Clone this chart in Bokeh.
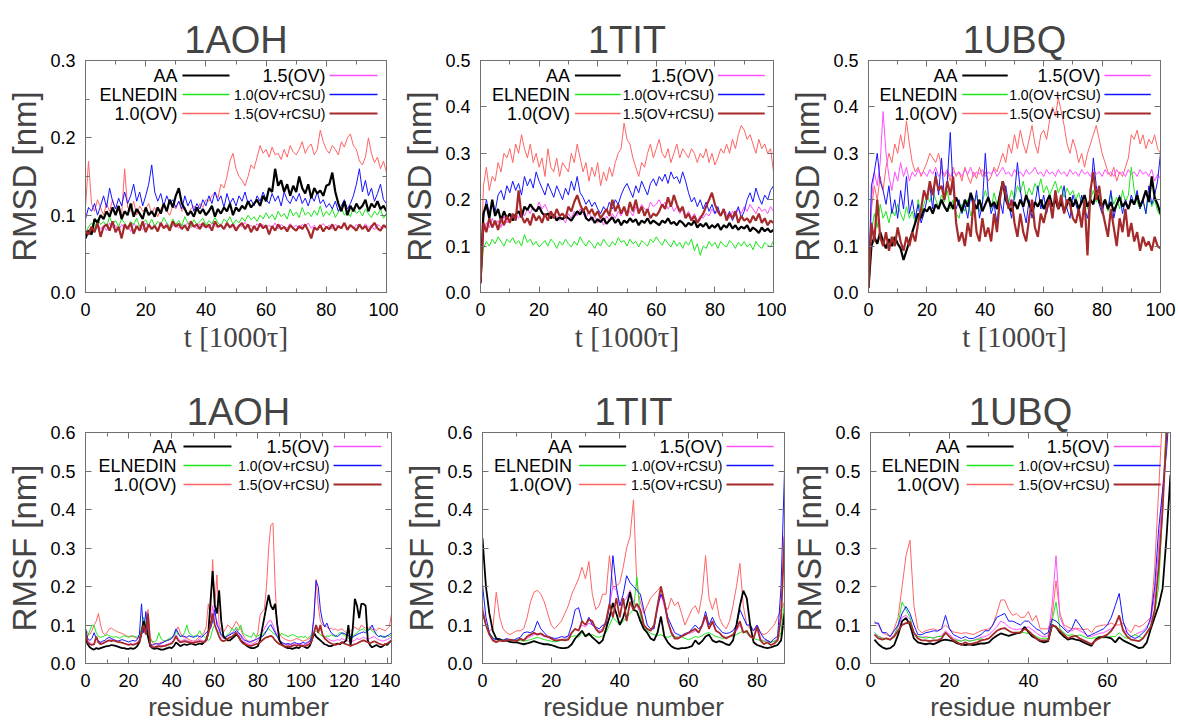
import numpy as np
from bokeh.plotting import figure
from bokeh.layouts import column, row
from bokeh.models import (Range1d, LinearAxis, FixedTicker,
                          NumeralTickFormatter, CustomJSTickFormatter, Label)
from bokeh.embed import file_html
from bokeh.resources import INLINE

FONT = "Liberation Sans"
SERIF = "Liberation Serif"
EDGE = "#707070"

SERIES = ["AA", "ELNEDIN", "1.0(OV)", "1.5(OV)", "1.0(OV+rCSU)", "1.5(OV+rCSU)"]
COLORS = {"AA": "#000000", "ELNEDIN": "#1ee61e", "1.0(OV)": "#ff6464",
          "1.5(OV)": "#ff50ff", "1.0(OV+rCSU)": "#1414ff", "1.5(OV+rCSU)": "#a52a2a"}
DRAW_ORDER = ["1.0(OV)", "1.5(OV)", "ELNEDIN", "1.0(OV+rCSU)", "AA", "1.5(OV+rCSU)"]

# tick positions
T_TICKS = [0, 20, 40, 60, 80, 100]
T_MINOR = [10, 30, 50, 70, 90]
Y03_TICKS = [0.0, 0.1, 0.2, 0.3]
Y03_MINOR = [0.05, 0.15, 0.25]
Y05_TICKS = [0.0, 0.1, 0.2, 0.3, 0.4, 0.5]
Y06_TICKS = [0.0, 0.1, 0.2, 0.3, 0.4, 0.5, 0.6]
R142_TICKS = [0, 20, 40, 60, 80, 100, 120, 140]
R142_MINOR = [10, 30, 50, 70, 90, 110, 130]
R88_TICKS = [0, 20, 40, 60, 80]
R88_MINOR = [10, 30, 50, 70]
R76_TICKS = [0, 20, 40, 60]
R76_MINOR = [10, 30, 50, 70]

# ---------------- RMSD vs time (t in 1000 tau) ----------------
T = list(range(0, 101))

rmsd_1aoh_aa = [0.070,0.080,0.075,0.095,0.090,0.100,0.095,0.105,0.098,0.110,0.100,
    0.112,0.095,0.105,0.100,0.115,0.098,0.108,0.102,0.095,0.110,
    0.100,0.105,0.098,0.110,0.102,0.115,0.105,0.120,0.110,0.125,
    0.135,0.115,0.108,0.100,0.105,0.098,0.110,0.102,0.108,0.100,
    0.105,0.112,0.098,0.108,0.102,0.110,0.105,0.115,0.100,0.110,
    0.105,0.112,0.108,0.118,0.110,0.115,0.120,0.112,0.125,0.118,
    0.135,0.130,0.160,0.138,0.145,0.130,0.140,0.125,0.138,0.130,
    0.150,0.135,0.128,0.140,0.122,0.135,0.128,0.132,0.125,0.138,
    0.140,0.155,0.130,0.115,0.105,0.118,0.100,0.112,0.105,0.115,
    0.108,0.112,0.120,0.105,0.115,0.110,0.118,0.108,0.112,0.105]
rmsd_1aoh_eln = [0.075,0.085,0.090,0.082,0.095,0.088,0.092,0.085,0.098,0.088,0.093,
    0.085,0.095,0.090,0.083,0.092,0.088,0.096,0.085,0.090,0.094,
    0.087,0.095,0.085,0.092,0.088,0.097,0.090,0.085,0.095,0.088,
    0.093,0.086,0.098,0.090,0.085,0.094,0.088,0.092,0.096,0.087,
    0.093,0.089,0.097,0.090,0.086,0.095,0.091,0.098,0.088,0.094,
    0.090,0.097,0.092,0.100,0.094,0.098,0.092,0.100,0.095,0.103,
    0.096,0.101,0.094,0.105,0.098,0.102,0.095,0.108,0.099,0.104,
    0.097,0.110,0.100,0.104,0.098,0.106,0.100,0.112,0.098,0.105,
    0.100,0.108,0.097,0.104,0.110,0.100,0.105,0.098,0.110,0.102,
    0.106,0.099,0.108,0.102,0.097,0.105,0.100,0.108,0.096,0.103]
rmsd_1aoh_ov10 = [0.110,0.170,0.115,0.105,0.120,0.110,0.100,0.115,0.105,0.120,0.108,
    0.112,0.100,0.160,0.110,0.105,0.118,0.100,0.112,0.105,0.108,
    0.115,0.102,0.110,0.098,0.108,0.115,0.105,0.100,0.112,0.108,
    0.118,0.105,0.110,0.100,0.108,0.112,0.105,0.115,0.110,0.120,
    0.118,0.125,0.130,0.122,0.140,0.135,0.150,0.170,0.180,0.160,
    0.150,0.145,0.138,0.150,0.165,0.160,0.175,0.190,0.180,0.185,
    0.175,0.188,0.178,0.180,0.172,0.185,0.175,0.190,0.182,0.178,
    0.185,0.195,0.180,0.188,0.192,0.178,0.185,0.210,0.195,0.185,
    0.180,0.190,0.185,0.178,0.195,0.188,0.200,0.205,0.190,0.185,
    0.170,0.165,0.175,0.200,0.180,0.168,0.175,0.160,0.170,0.155]
rmsd_1aoh_ov15 = [0.075,0.080,0.085,0.078,0.088,0.082,0.086,0.080,0.090,0.084,0.087,
    0.080,0.088,0.083,0.086,0.079,0.089,0.084,0.087,0.081,0.090,
    0.085,0.083,0.088,0.080,0.087,0.084,0.090,0.082,0.086,0.089,
    0.083,0.088,0.085,0.091,0.084,0.087,0.082,0.089,0.085,0.088,
    0.083,0.090,0.086,0.084,0.089,0.082,0.087,0.085,0.090,0.083,
    0.088,0.085,0.091,0.084,0.087,0.082,0.089,0.085,0.088,0.083,
    0.087,0.084,0.090,0.082,0.088,0.085,0.083,0.089,0.084,0.087,
    0.082,0.088,0.085,0.090,0.083,0.087,0.081,0.086,0.089,0.084,
    0.087,0.082,0.088,0.085,0.083,0.089,0.084,0.087,0.082,0.088,
    0.085,0.083,0.089,0.084,0.087,0.081,0.088,0.085,0.083,0.087]
rmsd_1aoh_rc10 = [0.095,0.110,0.105,0.115,0.100,0.112,0.125,0.110,0.135,0.118,0.108,
    0.122,0.112,0.130,0.115,0.125,0.140,0.118,0.130,0.112,0.125,
    0.140,0.165,0.130,0.118,0.128,0.112,0.125,0.115,0.120,0.110,
    0.118,0.108,0.125,0.112,0.120,0.105,0.115,0.108,0.120,0.112,
    0.125,0.115,0.130,0.118,0.125,0.110,0.128,0.115,0.122,0.112,
    0.125,0.118,0.130,0.115,0.120,0.112,0.125,0.118,0.130,0.120,
    0.115,0.128,0.118,0.125,0.112,0.130,0.120,0.115,0.125,0.118,
    0.128,0.115,0.122,0.112,0.125,0.118,0.130,0.115,0.120,0.110,
    0.115,0.108,0.118,0.105,0.112,0.120,0.108,0.115,0.125,0.140,
    0.160,0.130,0.145,0.125,0.135,0.118,0.128,0.140,0.120,0.115]
rmsd_1aoh_rc15 = [0.080,0.075,0.085,0.078,0.090,0.072,0.085,0.088,0.080,0.092,0.078,
    0.085,0.070,0.088,0.082,0.090,0.076,0.086,0.080,0.092,0.078,
    0.088,0.082,0.086,0.079,0.090,0.083,0.087,0.080,0.092,0.085,
    0.089,0.082,0.087,0.080,0.092,0.085,0.088,0.082,0.090,0.084,
    0.088,0.080,0.092,0.085,0.087,0.082,0.090,0.084,0.088,0.080,
    0.086,0.090,0.082,0.088,0.078,0.086,0.080,0.089,0.083,0.087,
    0.075,0.086,0.080,0.088,0.082,0.085,0.079,0.087,0.083,0.080,
    0.086,0.082,0.088,0.080,0.070,0.084,0.081,0.087,0.079,0.085,
    0.082,0.088,0.080,0.086,0.083,0.090,0.081,0.087,0.084,0.080,
    0.088,0.082,0.086,0.079,0.085,0.090,0.083,0.080,0.087,0.084]

rmsd_1tit_aa = [0.020,0.170,0.190,0.160,0.200,0.165,0.180,0.155,0.175,0.160,0.170,
    0.155,0.168,0.175,0.162,0.185,0.178,0.190,0.180,0.175,0.185,
    0.172,0.165,0.170,0.160,0.168,0.155,0.162,0.158,0.165,0.160,
    0.155,0.165,0.175,0.168,0.180,0.160,0.155,0.162,0.150,0.158,
    0.152,0.160,0.148,0.155,0.162,0.150,0.158,0.145,0.155,0.150,
    0.160,0.152,0.158,0.145,0.155,0.150,0.160,0.148,0.155,0.150,
    0.145,0.155,0.150,0.160,0.148,0.152,0.145,0.155,0.150,0.142,
    0.150,0.145,0.155,0.140,0.148,0.142,0.150,0.138,0.145,0.140,
    0.148,0.135,0.145,0.140,0.150,0.138,0.145,0.135,0.142,0.138,
    0.145,0.132,0.140,0.135,0.128,0.140,0.132,0.138,0.130,0.135]
rmsd_1tit_eln = [0.020,0.095,0.110,0.100,0.115,0.105,0.120,0.110,0.100,0.115,0.108,
    0.118,0.105,0.112,0.100,0.125,0.108,0.115,0.102,0.110,0.098,
    0.105,0.112,0.100,0.115,0.108,0.095,0.110,0.102,0.115,0.105,
    0.098,0.110,0.102,0.120,0.108,0.100,0.112,0.105,0.095,0.108,
    0.100,0.115,0.105,0.098,0.110,0.102,0.118,0.108,0.112,0.100,
    0.115,0.105,0.110,0.098,0.112,0.106,0.100,0.115,0.108,0.120,
    0.110,0.102,0.115,0.105,0.098,0.112,0.100,0.108,0.095,0.110,
    0.102,0.115,0.090,0.105,0.080,0.100,0.095,0.110,0.100,0.108,
    0.095,0.110,0.102,0.098,0.112,0.105,0.095,0.108,0.100,0.110,
    0.098,0.105,0.092,0.110,0.100,0.095,0.108,0.102,0.098,0.112]
rmsd_1tit_ov10 = [0.020,0.230,0.270,0.220,0.250,0.240,0.280,0.260,0.300,0.290,0.310,
    0.280,0.320,0.300,0.340,0.310,0.290,0.320,0.280,0.300,0.270,
    0.290,0.250,0.310,0.270,0.260,0.290,0.250,0.280,0.270,0.260,
    0.300,0.280,0.320,0.290,0.260,0.280,0.240,0.270,0.250,0.280,
    0.230,0.260,0.240,0.270,0.250,0.280,0.300,0.310,0.365,0.330,
    0.320,0.290,0.270,0.250,0.280,0.270,0.300,0.320,0.290,0.310,
    0.330,0.300,0.290,0.310,0.280,0.300,0.320,0.290,0.310,0.300,
    0.290,0.310,0.300,0.280,0.300,0.290,0.310,0.280,0.300,0.275,
    0.290,0.310,0.300,0.320,0.300,0.330,0.310,0.340,0.360,0.350,
    0.330,0.340,0.320,0.300,0.330,0.310,0.320,0.300,0.310,0.260]
rmsd_1tit_ov15 = [0.020,0.130,0.150,0.140,0.160,0.145,0.155,0.140,0.165,0.150,0.160,
    0.155,0.170,0.160,0.175,0.165,0.180,0.170,0.185,0.175,0.195,
    0.180,0.190,0.175,0.170,0.160,0.165,0.155,0.160,0.150,0.170,
    0.160,0.175,0.165,0.180,0.170,0.160,0.175,0.155,0.165,0.150,
    0.160,0.145,0.165,0.155,0.170,0.160,0.175,0.165,0.180,0.170,
    0.175,0.165,0.185,0.175,0.190,0.180,0.175,0.195,0.185,0.190,
    0.200,0.185,0.195,0.180,0.190,0.175,0.185,0.170,0.180,0.165,
    0.175,0.160,0.170,0.155,0.165,0.160,0.170,0.165,0.180,0.170,
    0.175,0.165,0.180,0.170,0.160,0.175,0.165,0.180,0.170,0.185,
    0.175,0.190,0.180,0.170,0.185,0.175,0.180,0.170,0.185,0.175]
rmsd_1tit_rc10 = [0.020,0.160,0.200,0.170,0.190,0.175,0.210,0.220,0.200,0.230,0.215,
    0.240,0.220,0.235,0.210,0.250,0.230,0.245,0.225,0.260,0.240,
    0.225,0.210,0.235,0.220,0.205,0.230,0.215,0.200,0.225,0.210,
    0.240,0.220,0.250,0.215,0.205,0.190,0.200,0.185,0.195,0.180,
    0.170,0.185,0.175,0.195,0.180,0.200,0.190,0.210,0.225,0.235,
    0.220,0.205,0.230,0.215,0.240,0.225,0.210,0.235,0.245,0.230,
    0.250,0.240,0.255,0.235,0.260,0.245,0.250,0.235,0.260,0.240,
    0.215,0.195,0.205,0.185,0.200,0.180,0.195,0.175,0.190,0.170,
    0.185,0.165,0.180,0.160,0.175,0.155,0.170,0.185,0.160,0.175,
    0.200,0.215,0.195,0.225,0.205,0.190,0.210,0.200,0.220,0.230]
rmsd_1tit_rc15 = [0.020,0.150,0.130,0.160,0.140,0.155,0.135,0.160,0.145,0.165,0.150,
    0.170,0.155,0.220,0.165,0.150,0.160,0.145,0.170,0.155,0.165,
    0.150,0.170,0.155,0.175,0.160,0.180,0.165,0.170,0.160,0.185,
    0.175,0.195,0.210,0.190,0.175,0.185,0.170,0.180,0.165,0.175,
    0.160,0.170,0.180,0.165,0.200,0.175,0.190,0.170,0.185,0.165,
    0.195,0.175,0.200,0.170,0.185,0.165,0.180,0.160,0.170,0.165,
    0.175,0.190,0.180,0.205,0.185,0.210,0.190,0.175,0.185,0.160,
    0.170,0.155,0.165,0.150,0.160,0.170,0.185,0.200,0.215,0.190,
    0.175,0.165,0.180,0.155,0.170,0.160,0.175,0.150,0.165,0.155,
    0.160,0.150,0.165,0.155,0.170,0.150,0.160,0.145,0.155,0.150]

rmsd_1ubq_aa = [0.010,0.100,0.120,0.105,0.130,0.110,0.095,0.115,0.100,0.120,0.105,
    0.095,0.070,0.090,0.110,0.130,0.150,0.170,0.160,0.180,0.175,
    0.185,0.170,0.190,0.180,0.200,0.185,0.175,0.195,0.180,0.205,
    0.190,0.175,0.200,0.185,0.215,0.195,0.180,0.200,0.175,0.190,
    0.205,0.185,0.195,0.180,0.210,0.240,0.200,0.185,0.175,0.195,
    0.180,0.200,0.185,0.210,0.190,0.175,0.195,0.185,0.200,0.180,
    0.195,0.210,0.185,0.200,0.180,0.195,0.175,0.190,0.205,0.185,
    0.200,0.180,0.195,0.210,0.185,0.200,0.190,0.220,0.195,0.185,
    0.200,0.180,0.195,0.175,0.190,0.205,0.185,0.195,0.180,0.200,
    0.190,0.210,0.185,0.200,0.220,0.195,0.250,0.205,0.190,0.170]
rmsd_1ubq_eln = [0.010,0.130,0.170,0.140,0.190,0.160,0.175,0.150,0.180,0.165,0.190,
    0.170,0.155,0.185,0.160,0.175,0.150,0.200,0.170,0.190,0.210,
    0.195,0.220,0.200,0.185,0.210,0.195,0.220,0.180,0.200,0.170,
    0.160,0.190,0.175,0.200,0.165,0.185,0.210,0.175,0.195,0.220,
    0.200,0.180,0.215,0.190,0.205,0.230,0.210,0.195,0.220,0.200,
    0.230,0.215,0.240,0.205,0.225,0.210,0.235,0.220,0.245,0.215,
    0.230,0.210,0.225,0.240,0.215,0.230,0.205,0.225,0.210,0.220,
    0.200,0.215,0.190,0.210,0.180,0.200,0.220,0.195,0.210,0.185,
    0.200,0.175,0.215,0.190,0.205,0.180,0.220,0.195,0.210,0.270,
    0.220,0.195,0.180,0.200,0.170,0.210,0.185,0.200,0.175,0.165]
rmsd_1ubq_ov10 = [0.010,0.180,0.230,0.200,0.250,0.220,0.270,0.300,0.280,0.320,0.300,
    0.340,0.310,0.370,0.320,0.280,0.260,0.270,0.250,0.265,0.280,
    0.300,0.290,0.280,0.300,0.270,0.250,0.260,0.240,0.270,0.250,
    0.260,0.240,0.270,0.250,0.235,0.260,0.245,0.270,0.250,0.260,
    0.240,0.250,0.270,0.260,0.280,0.300,0.280,0.320,0.300,0.340,
    0.310,0.350,0.320,0.300,0.330,0.360,0.320,0.300,0.340,0.350,
    0.330,0.370,0.400,0.380,0.420,0.390,0.360,0.320,0.300,0.330,
    0.310,0.280,0.300,0.270,0.300,0.320,0.340,0.360,0.330,0.300,
    0.280,0.260,0.250,0.270,0.240,0.260,0.250,0.270,0.290,0.340,
    0.330,0.350,0.320,0.340,0.310,0.330,0.320,0.340,0.310,0.300]
rmsd_1ubq_ov15 = [0.010,0.200,0.260,0.230,0.280,0.390,0.300,0.250,0.220,0.260,0.240,
    0.280,0.250,0.270,0.240,0.260,0.250,0.265,0.255,0.260,0.250,
    0.265,0.255,0.270,0.250,0.260,0.255,0.265,0.250,0.260,0.255,
    0.260,0.250,0.265,0.255,0.270,0.250,0.260,0.255,0.265,0.250,
    0.260,0.255,0.265,0.250,0.260,0.270,0.255,0.260,0.250,0.265,
    0.255,0.260,0.250,0.265,0.255,0.260,0.270,0.255,0.260,0.250,
    0.265,0.255,0.260,0.250,0.265,0.255,0.260,0.250,0.265,0.255,
    0.260,0.250,0.265,0.255,0.260,0.250,0.265,0.255,0.260,0.250,
    0.265,0.255,0.260,0.250,0.265,0.255,0.260,0.250,0.265,0.255,
    0.260,0.250,0.265,0.255,0.260,0.250,0.265,0.240,0.255,0.245]
rmsd_1ubq_rc10 = [0.010,0.230,0.260,0.300,0.240,0.220,0.190,0.230,0.170,0.200,0.160,
    0.220,0.180,0.250,0.170,0.200,0.160,0.190,0.150,0.170,0.200,
    0.230,0.180,0.260,0.210,0.290,0.200,0.240,0.345,0.220,0.180,
    0.200,0.170,0.190,0.160,0.210,0.180,0.220,0.160,0.190,0.300,
    0.210,0.170,0.190,0.150,0.200,0.170,0.230,0.190,0.160,0.210,
    0.280,0.220,0.180,0.150,0.200,0.160,0.190,0.230,0.180,0.210,
    0.170,0.200,0.160,0.220,0.180,0.200,0.230,0.180,0.160,0.210,
    0.190,0.170,0.210,0.180,0.160,0.200,0.290,0.230,0.190,0.170,
    0.200,0.180,0.220,0.160,0.190,0.210,0.170,0.200,0.180,0.210,
    0.190,0.220,0.180,0.200,0.170,0.230,0.190,0.210,0.240,0.300]
rmsd_1ubq_rc15 = [0.010,0.150,0.110,0.200,0.120,0.100,0.130,0.090,0.120,0.100,0.140,
    0.110,0.090,0.120,0.100,0.130,0.110,0.150,0.180,0.220,0.200,
    0.240,0.210,0.250,0.220,0.230,0.200,0.240,0.210,0.250,0.150,
    0.110,0.130,0.100,0.150,0.120,0.200,0.130,0.110,0.160,0.120,
    0.140,0.110,0.170,0.130,0.200,0.240,0.210,0.180,0.200,0.150,
    0.120,0.170,0.130,0.110,0.160,0.200,0.140,0.120,0.170,0.150,
    0.180,0.200,0.160,0.220,0.180,0.210,0.170,0.200,0.190,0.160,
    0.150,0.180,0.140,0.200,0.080,0.220,0.260,0.200,0.230,0.180,
    0.150,0.120,0.180,0.140,0.100,0.160,0.130,0.180,0.120,0.150,
    0.110,0.130,0.090,0.120,0.100,0.110,0.090,0.120,0.100,0.095]

# ---------------- RMSF vs residue number ----------------
RES_1AOH = list(range(0, 143))
RES_1TIT = list(range(0, 89))
RES_1UBQ = list(range(1, 77))

rmsf_1aoh_aa = [0.065,0.050,0.042,0.038,0.036,0.040,0.038,0.040,0.042,0.044,
    0.045,0.046,0.048,0.047,0.046,0.044,0.042,0.040,0.040,0.038,
    0.038,0.040,0.038,0.040,0.045,0.055,0.080,0.110,0.090,0.070,
    0.045,0.040,0.038,0.040,0.038,0.036,0.036,0.038,0.040,0.042,
    0.040,0.045,0.055,0.050,0.045,0.048,0.050,0.048,0.050,0.052,
    0.050,0.048,0.050,0.052,0.050,0.055,0.060,0.080,0.160,0.240,
    0.150,0.130,0.190,0.110,0.070,0.065,0.060,0.060,0.065,0.070,
    0.075,0.070,0.060,0.055,0.050,0.045,0.042,0.040,0.040,0.042,
    0.045,0.060,0.090,0.120,0.150,0.178,0.150,0.140,0.155,0.100,
    0.060,0.050,0.045,0.042,0.040,0.040,0.038,0.040,0.042,0.040,
    0.045,0.045,0.042,0.040,0.045,0.060,0.080,0.070,0.065,0.060,
    0.055,0.050,0.048,0.045,0.045,0.048,0.050,0.052,0.050,0.055,
    0.055,0.060,0.100,0.045,0.090,0.168,0.150,0.118,0.155,0.155,
    0.150,0.060,0.048,0.042,0.045,0.048,0.045,0.042,0.045,0.050,
    0.048,0.055,0.060]
rmsf_1aoh_eln = [0.090,0.070,0.085,0.100,0.098,0.080,0.070,0.068,0.070,0.072,
    0.075,0.072,0.070,0.068,0.070,0.068,0.065,0.070,0.072,0.070,
    0.068,0.070,0.072,0.070,0.068,0.075,0.090,0.120,0.100,0.085,
    0.060,0.058,0.056,0.060,0.080,0.065,0.060,0.058,0.062,0.065,
    0.068,0.070,0.085,0.075,0.070,0.072,0.080,0.100,0.080,0.075,
    0.070,0.072,0.075,0.085,0.075,0.070,0.065,0.060,0.065,0.090,
    0.100,0.085,0.080,0.075,0.072,0.070,0.075,0.080,0.090,0.085,
    0.095,0.085,0.100,0.080,0.075,0.072,0.070,0.068,0.080,0.070,
    0.072,0.075,0.070,0.080,0.085,0.090,0.085,0.080,0.075,0.070,
    0.072,0.078,0.075,0.073,0.070,0.072,0.075,0.073,0.070,0.068,
    0.070,0.068,0.070,0.065,0.070,0.075,0.080,0.085,0.080,0.075,
    0.070,0.068,0.072,0.070,0.075,0.072,0.070,0.075,0.080,0.078,
    0.075,0.070,0.065,0.068,0.072,0.075,0.080,0.085,0.088,0.090,
    0.085,0.088,0.090,0.085,0.080,0.075,0.070,0.072,0.068,0.070,
    0.072,0.070,0.075]
rmsf_1aoh_ov10 = [0.090,0.080,0.075,0.085,0.100,0.110,0.130,0.100,0.080,0.075,
    0.080,0.090,0.092,0.088,0.085,0.082,0.080,0.078,0.075,0.072,
    0.070,0.072,0.070,0.068,0.065,0.068,0.075,0.090,0.100,0.140,
    0.070,0.055,0.052,0.050,0.052,0.055,0.055,0.058,0.060,0.062,
    0.065,0.070,0.085,0.095,0.080,0.070,0.068,0.065,0.062,0.060,
    0.058,0.060,0.065,0.070,0.075,0.080,0.095,0.155,0.120,0.270,
    0.150,0.230,0.100,0.085,0.080,0.090,0.100,0.095,0.090,0.100,
    0.110,0.100,0.090,0.075,0.065,0.060,0.058,0.055,0.058,0.065,
    0.080,0.125,0.135,0.140,0.200,0.300,0.360,0.365,0.200,0.100,
    0.075,0.070,0.065,0.062,0.060,0.058,0.060,0.062,0.065,0.063,
    0.060,0.058,0.060,0.062,0.065,0.075,0.120,0.218,0.150,0.110,
    0.100,0.098,0.095,0.090,0.092,0.088,0.090,0.085,0.088,0.090,
    0.085,0.080,0.082,0.085,0.090,0.095,0.090,0.088,0.100,0.095,
    0.092,0.090,0.095,0.088,0.090,0.085,0.092,0.090,0.088,0.085,
    0.090,0.095,0.130]
rmsf_1aoh_ov15 = [0.075,0.060,0.055,0.050,0.052,0.065,0.060,0.055,0.052,0.055,
    0.058,0.060,0.062,0.060,0.058,0.056,0.055,0.054,0.052,0.050,
    0.050,0.052,0.050,0.052,0.055,0.060,0.075,0.110,0.085,0.110,
    0.055,0.045,0.044,0.045,0.046,0.048,0.046,0.048,0.050,0.052,
    0.055,0.060,0.075,0.065,0.058,0.060,0.062,0.060,0.058,0.056,
    0.055,0.058,0.060,0.065,0.060,0.058,0.065,0.085,0.100,0.150,
    0.120,0.110,0.085,0.070,0.065,0.068,0.072,0.075,0.080,0.085,
    0.090,0.080,0.070,0.060,0.055,0.052,0.050,0.050,0.052,0.055,
    0.060,0.070,0.080,0.090,0.100,0.110,0.112,0.100,0.085,0.070,
    0.058,0.055,0.052,0.050,0.050,0.048,0.050,0.052,0.050,0.052,
    0.050,0.048,0.050,0.052,0.055,0.065,0.080,0.100,0.085,0.090,
    0.075,0.070,0.068,0.062,0.060,0.058,0.060,0.062,0.060,0.065,
    0.062,0.060,0.058,0.055,0.058,0.060,0.065,0.062,0.065,0.068,
    0.065,0.062,0.065,0.068,0.070,0.065,0.062,0.060,0.058,0.060,
    0.062,0.065,0.070]
rmsf_1aoh_rc10 = [0.090,0.065,0.060,0.065,0.080,0.065,0.058,0.055,0.058,0.060,
    0.065,0.068,0.065,0.062,0.060,0.058,0.060,0.062,0.060,0.058,
    0.056,0.058,0.060,0.058,0.062,0.075,0.155,0.080,0.135,0.070,
    0.050,0.048,0.050,0.052,0.050,0.052,0.055,0.058,0.060,0.062,
    0.065,0.075,0.090,0.080,0.070,0.072,0.070,0.068,0.072,0.070,
    0.068,0.070,0.072,0.070,0.068,0.075,0.080,0.085,0.090,0.110,
    0.140,0.100,0.090,0.075,0.070,0.068,0.072,0.075,0.078,0.080,
    0.085,0.080,0.075,0.065,0.060,0.058,0.055,0.058,0.060,0.062,
    0.065,0.068,0.070,0.075,0.085,0.095,0.101,0.090,0.080,0.070,
    0.060,0.055,0.052,0.050,0.052,0.050,0.052,0.055,0.052,0.050,
    0.052,0.055,0.052,0.055,0.058,0.070,0.120,0.215,0.200,0.140,
    0.110,0.095,0.105,0.090,0.080,0.075,0.072,0.070,0.075,0.080,
    0.078,0.075,0.072,0.070,0.068,0.072,0.075,0.078,0.080,0.082,
    0.080,0.085,0.090,0.100,0.085,0.075,0.070,0.072,0.070,0.068,
    0.072,0.075,0.080]
rmsf_1aoh_rc15 = [0.080,0.055,0.050,0.048,0.050,0.070,0.055,0.050,0.052,0.055,
    0.058,0.060,0.058,0.060,0.058,0.056,0.055,0.054,0.052,0.050,
    0.048,0.050,0.048,0.050,0.052,0.058,0.080,0.100,0.075,0.130,
    0.050,0.042,0.042,0.044,0.045,0.044,0.045,0.046,0.048,0.050,
    0.052,0.060,0.070,0.060,0.055,0.056,0.058,0.056,0.055,0.054,
    0.053,0.055,0.056,0.058,0.056,0.055,0.060,0.080,0.100,0.130,
    0.100,0.085,0.070,0.060,0.058,0.060,0.065,0.068,0.070,0.075,
    0.080,0.070,0.060,0.052,0.050,0.048,0.046,0.046,0.048,0.050,
    0.052,0.055,0.060,0.065,0.068,0.070,0.072,0.068,0.060,0.055,
    0.050,0.048,0.046,0.044,0.045,0.044,0.046,0.048,0.046,0.048,
    0.046,0.045,0.046,0.048,0.050,0.060,0.080,0.100,0.080,0.100,
    0.075,0.065,0.060,0.055,0.052,0.050,0.048,0.050,0.052,0.055,
    0.052,0.050,0.048,0.046,0.048,0.050,0.052,0.055,0.058,0.060,
    0.058,0.055,0.052,0.055,0.058,0.055,0.052,0.050,0.048,0.050,
    0.052,0.055,0.060]

rmsf_1tit_aa = [0.325,0.200,0.130,0.085,0.065,0.062,0.058,0.060,0.056,0.055,
    0.055,0.052,0.050,0.052,0.055,0.058,0.055,0.052,0.050,0.050,
    0.048,0.045,0.042,0.040,0.040,0.042,0.050,0.065,0.075,0.085,
    0.070,0.078,0.068,0.060,0.052,0.060,0.090,0.120,0.157,0.130,
    0.100,0.120,0.150,0.185,0.140,0.135,0.110,0.090,0.080,0.065,
    0.060,0.080,0.122,0.070,0.055,0.045,0.040,0.038,0.040,0.040,
    0.042,0.045,0.060,0.050,0.058,0.070,0.075,0.060,0.055,0.058,
    0.055,0.050,0.048,0.060,0.100,0.150,0.189,0.170,0.100,0.055,
    0.048,0.045,0.042,0.040,0.042,0.045,0.048,0.060,0.130]
rmsf_1tit_eln = [0.130,0.100,0.080,0.068,0.062,0.060,0.062,0.060,0.058,0.060,
    0.062,0.060,0.058,0.060,0.062,0.065,0.068,0.065,0.062,0.060,
    0.058,0.056,0.058,0.060,0.062,0.065,0.070,0.072,0.068,0.080,
    0.075,0.072,0.075,0.070,0.068,0.072,0.080,0.100,0.120,0.110,
    0.100,0.110,0.120,0.130,0.140,0.225,0.120,0.095,0.085,0.078,
    0.075,0.072,0.075,0.070,0.068,0.072,0.070,0.068,0.070,0.065,
    0.062,0.065,0.070,0.068,0.072,0.078,0.080,0.075,0.070,0.068,
    0.065,0.068,0.070,0.072,0.075,0.080,0.085,0.078,0.070,0.065,
    0.062,0.060,0.058,0.055,0.055,0.058,0.062,0.080,0.160]
rmsf_1tit_ov10 = [0.150,0.100,0.085,0.090,0.185,0.120,0.090,0.080,0.075,0.080,
    0.085,0.085,0.090,0.120,0.160,0.185,0.190,0.180,0.160,0.130,
    0.100,0.090,0.100,0.110,0.130,0.150,0.180,0.200,0.220,0.250,
    0.220,0.265,0.180,0.140,0.150,0.180,0.180,0.280,0.200,0.200,
    0.210,0.250,0.300,0.330,0.425,0.200,0.160,0.130,0.150,0.170,
    0.180,0.190,0.200,0.150,0.140,0.170,0.150,0.160,0.130,0.100,
    0.120,0.140,0.150,0.130,0.180,0.280,0.170,0.140,0.170,0.120,
    0.100,0.090,0.110,0.150,0.200,0.260,0.150,0.100,0.090,0.085,
    0.100,0.080,0.075,0.080,0.090,0.100,0.120,0.140,0.160]
rmsf_1tit_ov15 = [0.140,0.100,0.075,0.062,0.058,0.060,0.060,0.058,0.060,0.062,
    0.060,0.062,0.060,0.065,0.070,0.075,0.078,0.075,0.070,0.068,
    0.065,0.062,0.060,0.062,0.065,0.070,0.080,0.090,0.085,0.100,
    0.095,0.105,0.100,0.090,0.085,0.090,0.110,0.150,0.200,0.190,
    0.150,0.160,0.170,0.190,0.160,0.150,0.130,0.100,0.090,0.085,
    0.095,0.140,0.180,0.150,0.110,0.085,0.070,0.068,0.072,0.075,
    0.078,0.080,0.085,0.080,0.095,0.120,0.090,0.105,0.085,0.080,
    0.072,0.068,0.070,0.072,0.085,0.100,0.080,0.082,0.072,0.068,
    0.100,0.065,0.058,0.060,0.055,0.058,0.065,0.130,0.350]
rmsf_1tit_rc10 = [0.205,0.120,0.080,0.065,0.062,0.065,0.060,0.065,0.062,0.060,
    0.065,0.068,0.080,0.082,0.080,0.085,0.110,0.090,0.080,0.070,
    0.068,0.065,0.066,0.070,0.068,0.072,0.100,0.140,0.145,0.110,
    0.100,0.120,0.100,0.095,0.090,0.100,0.100,0.150,0.280,0.200,
    0.150,0.180,0.228,0.210,0.200,0.190,0.180,0.140,0.100,0.090,
    0.090,0.150,0.180,0.160,0.120,0.100,0.080,0.075,0.072,0.078,
    0.080,0.090,0.100,0.090,0.100,0.135,0.100,0.120,0.100,0.090,
    0.080,0.078,0.080,0.085,0.100,0.140,0.120,0.100,0.100,0.085,
    0.100,0.080,0.065,0.060,0.055,0.065,0.070,0.200,0.500]
rmsf_1tit_rc15 = [0.135,0.100,0.075,0.060,0.055,0.060,0.058,0.060,0.062,0.060,
    0.058,0.065,0.060,0.070,0.075,0.080,0.075,0.078,0.072,0.070,
    0.065,0.060,0.060,0.062,0.060,0.062,0.080,0.090,0.085,0.110,
    0.100,0.115,0.110,0.090,0.080,0.085,0.110,0.155,0.120,0.170,
    0.120,0.170,0.110,0.160,0.140,0.155,0.140,0.100,0.090,0.085,
    0.100,0.150,0.200,0.160,0.110,0.080,0.065,0.065,0.070,0.075,
    0.080,0.085,0.090,0.080,0.100,0.125,0.090,0.110,0.085,0.080,
    0.070,0.065,0.070,0.075,0.090,0.110,0.080,0.085,0.070,0.065,
    0.095,0.060,0.050,0.055,0.048,0.052,0.060,0.120,0.330]

rmsf_1ubq_aa = [0.062,0.050,0.042,0.038,0.040,0.048,0.075,0.110,0.118,0.100,
    0.065,0.055,0.052,0.050,0.052,0.050,0.055,0.060,0.062,0.060,
    0.058,0.052,0.050,0.048,0.050,0.048,0.050,0.052,0.052,0.055,
    0.065,0.072,0.078,0.075,0.072,0.075,0.078,0.080,0.095,0.082,
    0.070,0.065,0.058,0.055,0.058,0.100,0.095,0.080,0.070,0.062,
    0.065,0.062,0.060,0.055,0.050,0.046,0.062,0.068,0.070,0.068,
    0.065,0.055,0.068,0.060,0.055,0.050,0.045,0.040,0.042,0.055,
    0.090,0.120,0.150,0.195,0.330,0.490]
rmsf_1ubq_eln = [0.080,0.070,0.065,0.065,0.060,0.070,0.100,0.160,0.140,0.120,
    0.080,0.070,0.068,0.066,0.068,0.066,0.070,0.070,0.080,0.070,
    0.062,0.060,0.058,0.062,0.058,0.060,0.062,0.064,0.062,0.065,
    0.075,0.085,0.090,0.092,0.085,0.080,0.080,0.082,0.080,0.078,
    0.075,0.070,0.065,0.066,0.065,0.110,0.160,0.090,0.080,0.072,
    0.075,0.072,0.074,0.070,0.066,0.065,0.068,0.070,0.066,0.068,
    0.070,0.070,0.080,0.070,0.065,0.070,0.075,0.070,0.065,0.080,
    0.100,0.130,0.200,0.400,0.650,0.750]
rmsf_1ubq_ov10 = [0.110,0.100,0.080,0.075,0.070,0.090,0.120,0.200,0.280,0.320,
    0.150,0.090,0.080,0.085,0.088,0.090,0.086,0.090,0.100,0.090,
    0.082,0.080,0.078,0.080,0.078,0.075,0.080,0.085,0.088,0.090,
    0.100,0.130,0.165,0.165,0.140,0.125,0.130,0.120,0.120,0.135,
    0.110,0.125,0.090,0.090,0.090,0.120,0.215,0.130,0.100,0.095,
    0.090,0.092,0.090,0.088,0.090,0.080,0.095,0.098,0.100,0.100,
    0.105,0.100,0.100,0.105,0.090,0.080,0.100,0.095,0.100,0.110,
    0.120,0.250,0.450,0.650,0.800,0.900]
rmsf_1ubq_ov15 = [0.080,0.072,0.066,0.065,0.062,0.075,0.095,0.120,0.125,0.115,
    0.080,0.070,0.068,0.070,0.068,0.066,0.070,0.072,0.085,0.075,
    0.066,0.062,0.058,0.062,0.058,0.060,0.064,0.068,0.070,0.075,
    0.085,0.095,0.110,0.105,0.095,0.090,0.088,0.090,0.092,0.095,
    0.088,0.080,0.072,0.070,0.072,0.150,0.280,0.120,0.095,0.085,
    0.085,0.090,0.085,0.080,0.072,0.070,0.075,0.078,0.080,0.085,
    0.090,0.100,0.120,0.090,0.078,0.070,0.075,0.080,0.085,0.095,
    0.110,0.180,0.300,0.450,0.600,0.700]
rmsf_1ubq_rc10 = [0.105,0.105,0.080,0.080,0.070,0.085,0.100,0.130,0.148,0.130,
    0.100,0.075,0.075,0.080,0.082,0.085,0.084,0.090,0.125,0.090,
    0.075,0.070,0.065,0.070,0.065,0.065,0.070,0.075,0.085,0.085,
    0.100,0.120,0.125,0.130,0.110,0.110,0.105,0.100,0.110,0.110,
    0.100,0.090,0.085,0.075,0.080,0.115,0.110,0.100,0.090,0.080,
    0.090,0.115,0.100,0.085,0.070,0.075,0.080,0.085,0.090,0.100,
    0.120,0.150,0.182,0.110,0.080,0.070,0.065,0.070,0.080,0.090,
    0.120,0.200,0.350,0.450,0.550,0.700]
rmsf_1ubq_rc15 = [0.075,0.065,0.062,0.065,0.062,0.070,0.085,0.100,0.105,0.108,
    0.080,0.065,0.060,0.060,0.058,0.060,0.060,0.065,0.080,0.070,
    0.060,0.055,0.048,0.055,0.050,0.052,0.055,0.060,0.062,0.065,
    0.075,0.085,0.090,0.092,0.085,0.080,0.080,0.080,0.090,0.085,
    0.075,0.065,0.060,0.060,0.060,0.100,0.095,0.085,0.075,0.065,
    0.070,0.072,0.065,0.060,0.055,0.050,0.060,0.065,0.070,0.075,
    0.085,0.100,0.125,0.085,0.070,0.062,0.060,0.058,0.065,0.080,
    0.095,0.140,0.250,0.400,0.600,0.750]


def pack(aa, eln, ov10, ov15, rc10, rc15):
    return dict(zip(SERIES, [aa, eln, ov10, ov15, rc10, rc15]))


# (name, data, y range, y ticks, y minor ticks, width, min_border_left, min_border_right)
TOP = [
    ("1AOH", pack(rmsd_1aoh_aa, rmsd_1aoh_eln, rmsd_1aoh_ov10, rmsd_1aoh_ov15, rmsd_1aoh_rc10, rmsd_1aoh_rc15),
     (0, 0.3), Y03_TICKS, Y03_MINOR, 398, 85, 12),
    ("1TIT", pack(rmsd_1tit_aa, rmsd_1tit_eln, rmsd_1tit_ov10, rmsd_1tit_ov15, rmsd_1tit_rc10, rmsd_1tit_rc15),
     (0, 0.5), Y05_TICKS, [], 388, 74, 13),
    ("1UBQ", pack(rmsd_1ubq_aa, rmsd_1ubq_eln, rmsd_1ubq_ov10, rmsd_1ubq_ov15, rmsd_1ubq_rc10, rmsd_1ubq_rc15),
     (0, 0.5), Y05_TICKS, [], 392, 72, 18),
]
BOTTOM = [
    ("1AOH", RES_1AOH, pack(rmsf_1aoh_aa, rmsf_1aoh_eln, rmsf_1aoh_ov10, rmsf_1aoh_ov15, rmsf_1aoh_rc10, rmsf_1aoh_rc15),
     (0, 142), R142_TICKS, R142_MINOR, 400, 85, 9),
    ("1TIT", RES_1TIT, pack(rmsf_1tit_aa, rmsf_1tit_eln, rmsf_1tit_ov10, rmsf_1tit_ov15, rmsf_1tit_rc10, rmsf_1tit_rc15),
     (0, 88), R88_TICKS, R88_MINOR, 388, 77, 4),
    ("1UBQ", RES_1UBQ, pack(rmsf_1ubq_aa, rmsf_1ubq_eln, rmsf_1ubq_ov10, rmsf_1ubq_ov15, rmsf_1ubq_rc10, rmsf_1ubq_rc15),
     (0, 76), R76_TICKS, R76_MINOR, 390, 76, 8),
]

for name, d, *_ in TOP:
    for k, v in d.items():
        assert len(v) == len(T), (name, k, len(v))
for name, xs, d, *_ in BOTTOM:
    for k, v in d.items():
        assert len(v) == len(xs), (name, k, len(v), len(xs))


def style_axis(ax, show):
    ax.axis_line_color = EDGE
    ax.major_tick_line_color = EDGE
    ax.minor_tick_line_color = EDGE
    ax.major_tick_in = 6
    ax.major_tick_out = 0
    ax.minor_tick_in = 4
    ax.minor_tick_out = 0
    if show:
        ax.major_label_text_font = FONT
        ax.major_label_text_font_size = "18px"
        ax.major_label_text_color = "black"
        ax.major_label_standoff = 10
    else:
        ax.major_label_standoff = 0
        ax.major_label_text_font_size = "1px"


def make_panel(name, xs, data, xr, yr, xticks, xminor, yticks, yminor, w, h, bl, br, bt, bb,
               ylabel, xlabel, xlabel_font, xlabel_size, thick, leg):
    p = figure(width=w, height=h, x_range=Range1d(*xr), y_range=Range1d(*yr),
               x_axis_type=None, y_axis_type=None, output_backend="svg",
               toolbar_location=None, min_border_left=bl, min_border_right=br,
               min_border_top=bt, min_border_bottom=bb)
    p.outline_line_color = EDGE
    p.title.text = name
    p.title.align = "center"
    p.title.text_font = FONT
    p.title.text_font_size = "38px"
    p.title.text_font_style = "normal"
    p.title.standoff = 0

    xt = FixedTicker(ticks=xticks, minor_ticks=xminor)
    yt = FixedTicker(ticks=yticks, minor_ticks=yminor)
    xb = LinearAxis(ticker=xt, axis_label=xlabel)
    style_axis(xb, True)
    xb.axis_label_text_font = xlabel_font
    xb.axis_label_text_font_size = xlabel_size
    xb.axis_label_text_font_style = "normal"
    xb.axis_label_standoff = 2
    xb.axis_label_text_line_height = 0.9
    p.add_layout(xb, "below")
    yl = LinearAxis(ticker=yt, axis_label=ylabel, formatter=NumeralTickFormatter(format="0.0"))
    style_axis(yl, True)
    yl.axis_label_text_font = FONT
    yl.axis_label_text_font_size = "33px"
    yl.axis_label_text_font_style = "normal"
    yl.axis_label_standoff = 4
    yl.axis_label_text_line_height = 1.0
    p.add_layout(yl, "left")
    xa = LinearAxis(ticker=xt, formatter=CustomJSTickFormatter(code="return ''"))
    style_axis(xa, False)
    p.add_layout(xa, "above")
    ya = LinearAxis(ticker=yt, formatter=CustomJSTickFormatter(code="return ''"))
    style_axis(ya, False)
    p.add_layout(ya, "right")

    for s in DRAW_ORDER:
        lw = thick if s in ("AA", "1.5(OV+rCSU)") else 1.0
        p.line(xs, data[s], line_color=COLORS[s], line_width=lw)

    # gnuplot-style key: label right-aligned, sample line to its right
    fw = w - bl - br
    fh = h - bt - bb
    X = lambda px: xr[0] + px / fw * (xr[1] - xr[0])
    Y = lambda px: yr[1] - px / fh * (yr[1] - yr[0])
    rows, c1, c2 = leg
    for col, (tx, l0, l1) in enumerate((c1, c2)):
        for r in range(3):
            s = SERIES[col * 3 + r]
            size = "14px" if "rCSU" in s else "18px"
            p.add_layout(Label(x=X(tx), y=Y(rows[r]), text=s, text_align="right",
                               text_baseline="middle", text_font=FONT,
                               text_font_size=size, text_color="black"))
            lw = thick if s in ("AA", "1.5(OV+rCSU)") else 1.3
            p.line([X(l0), X(l1)], [Y(rows[r]), Y(rows[r])],
                   line_color=COLORS[s], line_width=lw)
    return p


top_figs = []
for name, d, yr, yticks, yminor, w, bl, br in TOP:
    top_figs.append(make_panel(name, T, d, (0, 100), yr, T_TICKS, T_MINOR, yticks, yminor,
                               w, 358, bl, br, 60, 66,
                               "RMSD [nm]", "t [1000τ]", SERIF, "29px", 2.2,
                               ((15, 34, 53), (92, 97, 144), (240, 244, 292))))
bot_figs = []
for name, xs, d, xr, xticks, xminor, w, bl, br in BOTTOM:
    bot_figs.append(make_panel(name, xs, d, xr, (0, 0.6), xticks, xminor, Y06_TICKS, [],
                               w, 366, bl, br, 74, 61,
                               "RMSF [nm]", "residue number", FONT, "26px", 1.8,
                               ((14, 33, 52), (91, 98, 146), (244, 248, 296))))

layout = column(row(*top_figs), row(*bot_figs))
open("out.html", "w").write(file_html(layout, INLINE))
